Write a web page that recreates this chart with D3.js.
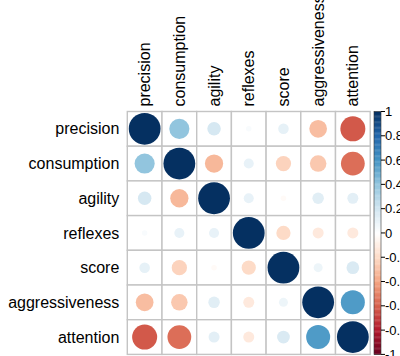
<!DOCTYPE html>
<html>
<head>
<meta charset="utf-8">
<script src="https://cdn.jsdelivr.net/npm/d3@7/dist/d3.min.js"></script>
<style>
  html, body { margin: 0; padding: 0; background: #fff; }
  svg { display: block; }
  text { font-family: "Liberation Sans", Arial, sans-serif; fill: #000; }
</style>
</head>
<body>
<svg id="chart" width="400" height="356"></svg>
<script>
// Variables (rows and columns of the correlation matrix)
const variables = ["precision", "consumption", "agility", "reflexes", "score", "aggressiveness", "attention"];

// Correlation coefficients, one row per variable
const precision      = [ 1.00,  0.40,  0.18,  0.03,  0.11, -0.31, -0.62];
const consumption    = [ 0.40,  1.00, -0.33,  0.10, -0.23, -0.27, -0.56];
const agility        = [ 0.18, -0.33,  1.00,  0.10, -0.03,  0.13,  0.12];
const reflexes       = [ 0.03,  0.10,  0.10,  1.00, -0.20, -0.12, -0.12];
const score          = [ 0.11, -0.23, -0.03, -0.20,  1.00,  0.08,  0.16];
const aggressiveness = [-0.31, -0.27,  0.13, -0.12,  0.08,  1.00,  0.57];
const attention      = [-0.62, -0.56,  0.12, -0.12,  0.16,  0.57,  1.00];
const matrix = [precision, consumption, agility, reflexes, score, aggressiveness, attention];

// Colour legend ticks
const legendTicks = [1, 0.8, 0.6, 0.4, 0.2, 0, -0.2, -0.4, -0.6, -0.8, -1];

// Diverging red-blue palette
const paletteStops = ["#67001F", "#B2182B", "#D6604D", "#F4A582", "#FDDBC7", "#FFFFFF",
                      "#D1E5F0", "#92C5DE", "#4393C3", "#2166AC", "#053061"];

const svg = d3.select("#chart");

const gridLeft = 127.3, gridTop = 111.5, cellSize = 34.7;
const n = variables.length;

const x = d3.scaleBand().domain(variables).range([gridLeft, gridLeft + n * cellSize]).padding(0);
const y = d3.scaleBand().domain(variables).range([gridTop, gridTop + n * cellSize]).padding(0);

const color = d3.scaleLinear()
  .domain(d3.range(paletteStops.length).map(i => -1 + 2 * i / (paletteStops.length - 1)))
  .range(paletteStops)
  .interpolate(d3.interpolateRgb);

// circle area proportional to |r|
const radius = d3.scaleSqrt().domain([0, 1]).range([0, 15.9]);

const cells = [];
matrix.forEach((row, i) => row.forEach((v, j) => cells.push({ r: variables[i], c: variables[j], v })));

// grid
svg.append("g").selectAll("rect").data(cells).join("rect")
  .attr("x", d => x(d.c))
  .attr("y", d => y(d.r))
  .attr("width", x.bandwidth())
  .attr("height", y.bandwidth())
  .attr("fill", "#fff")
  .attr("stroke", "#c4c4c4")
  .attr("stroke-width", 1.4);

// circles
svg.append("g").selectAll("circle").data(cells).join("circle")
  .attr("cx", d => x(d.c) + x.bandwidth() / 2)
  .attr("cy", d => y(d.r) + y.bandwidth() / 2)
  .attr("r", d => radius(Math.abs(d.v)))
  .attr("fill", d => color(d.v));

// row labels
svg.append("g").selectAll("text").data(variables).join("text")
  .attr("x", gridLeft - 8)
  .attr("y", d => y(d) + y.bandwidth() / 2)
  .attr("dy", "0.35em")
  .attr("text-anchor", "end")
  .attr("font-size", 16)
  .text(d => d);

// column labels, rotated
svg.append("g").selectAll("text").data(variables).join("text")
  .attr("transform", d => `translate(${x(d) + x.bandwidth() / 2},${gridTop - 5}) rotate(-90)`)
  .attr("dy", "0.35em")
  .attr("text-anchor", "start")
  .attr("font-size", 16)
  .text(d => d);

// colour legend
const barX = 374, barW = 7;
const ly = d3.scaleLinear().domain([1, -1]).range([gridTop, gridTop + n * cellSize]);
const steps = d3.range(200).map(i => -1 + (i + 0.5) * 2 / 200);
const legend = svg.append("g");
legend.selectAll("rect").data(steps).join("rect")
  .attr("x", barX)
  .attr("y", d => ly(d + 0.005))
  .attr("width", barW)
  .attr("height", Math.abs(ly(0) - ly(0.01)) + 0.3)
  .attr("fill", d => color(d));
legend.append("rect")
  .attr("x", barX).attr("y", ly(1))
  .attr("width", barW).attr("height", ly(-1) - ly(1))
  .attr("fill", "none").attr("stroke", "#333").attr("stroke-width", 0.6);
legend.selectAll("line").data(legendTicks).join("line")
  .attr("x1", barX + barW).attr("x2", barX + barW + 4)
  .attr("y1", d => ly(d)).attr("y2", d => ly(d))
  .attr("stroke", "#000").attr("stroke-width", 1);
legend.selectAll("text").data(legendTicks).join("text")
  .attr("x", barX + barW + 4)
  .attr("y", d => ly(d))
  .attr("dy", "0.35em")
  .attr("font-size", 13)
  .text(d => d3.format("")(d).replace("−", "-"));
</script>
</body>
</html>
